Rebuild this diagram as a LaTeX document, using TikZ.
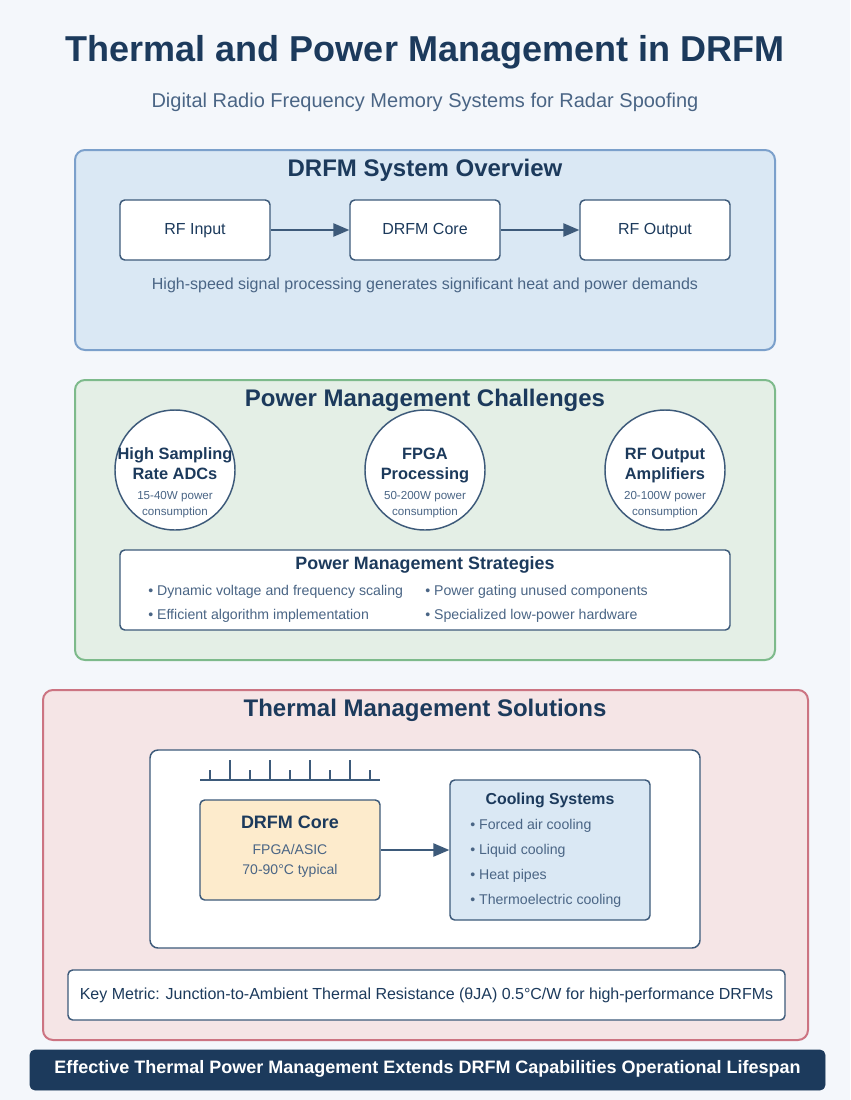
\documentclass[tikz,border=0pt]{standalone}
\usepackage{fontspec}
\setmainfont{Liberation Sans}
\usetikzlibrary{arrows.meta}
\definecolor{navy}{HTML}{1C3A5C}
\definecolor{edge}{HTML}{3D5A7A}
\definecolor{soft}{HTML}{4A6585}
\definecolor{bg}{HTML}{F4F7FB}
\definecolor{bluefill}{HTML}{DAE8F4}
\definecolor{bluestroke}{HTML}{7BA0CB}
\definecolor{greenfill}{HTML}{E4EFE6}
\definecolor{greenstroke}{HTML}{7DBA8B}
\definecolor{redfill}{HTML}{F5E5E6}
\definecolor{redstroke}{HTML}{CC7482}
\definecolor{corefill}{HTML}{FDEBCC}
\tikzset{
  every node/.append style={text height=1.75ex, text depth=0.5ex},
  panel/.style={draw, line width=1.5pt, rounded corners=7.5pt},
  sectitle/.style={font=\fontsize{18}{20}\selectfont\bfseries, text=navy},
  flowbox/.style={draw=edge, fill=white, line width=1.1pt, rounded corners=3.5pt, minimum width=112.5pt, minimum height=45pt, font=\fontsize{12}{14}\selectfont, text=navy},
  flowarrow/.style={draw=edge, line width=1.1pt, -{Triangle[length=12pt,width=10pt]}},
  challenge/.style={circle, draw=edge, fill=white, line width=1.1pt, minimum size=90pt, inner sep=0pt},
  bullet/.style={anchor=west, font=\fontsize{10.6}{12}\selectfont, text=soft, inner sep=0pt},
  tick/.style={draw=edge, line width=1.1pt},
}
\begin{document}
\begin{tikzpicture}[x=0.75pt,y=-0.75pt]
\fill[bg] (0,0) rectangle (850,1100);
\useasboundingbox (0,0) rectangle (850,1100);
% header
\node[font=\fontsize{27}{30}\selectfont\bfseries, text=navy] (title) at (425,57) {Thermal and Power Management in DRFM};
\node[font=\fontsize{15}{17}\selectfont, text=soft] (subtitle) at (425,103) {Digital Radio Frequency Memory Systems for Radar Spoofing};
% section 1
\draw[panel, fill=bluefill, draw=bluestroke] (75,150) rectangle (775,350);
\node[sectitle] (t1) at (425,172) {DRFM System Overview};
\node[flowbox] (rfin) at (195,230) {RF Input};
\node[flowbox] (core) at (425,230) {DRFM Core};
\node[flowbox] (rfout) at (655,230) {RF Output};
\draw[flowarrow] (rfin) -- (core);
\draw[flowarrow] (core) -- (rfout);
\node[font=\fontsize{12}{14}\selectfont, text=soft] (note1) at (425,285) {High-speed signal processing generates significant heat and power demands};
% section 2
\draw[panel, fill=greenfill, draw=greenstroke] (75,380) rectangle (775,660);
\node[sectitle] (t2) at (425,402) {Power Management Challenges};
\node[challenge] (c1) at (175,470) {};
\node[challenge] (c2) at (425,470) {};
\node[challenge] (c3) at (665,470) {};
\foreach \n/\x/\a/\b/\c in {c1/175/High Sampling/Rate ADCs/15-40W power, c2/425/FPGA/Processing/50-200W power, c3/665/RF Output/Amplifiers/20-100W power}{
  \node[font=\fontsize{12.3}{14}\selectfont\bfseries, text=navy, inner sep=0pt] (\n a) at (\x,455) {\a};
  \node[font=\fontsize{12.3}{14}\selectfont\bfseries, text=navy, inner sep=0pt] (\n b) at (\x,475) {\b};
  \node[font=\fontsize{8.7}{10}\selectfont, text=soft, inner sep=0pt] (\n c) at (\x,495) {\c};
  \node[font=\fontsize{8.7}{10}\selectfont, text=soft, inner sep=0pt] (\n d) at (\x,511) {consumption};
}
\draw[draw=edge, fill=white, line width=1.1pt, rounded corners=3.5pt] (120,550) rectangle (730,630);
\node[font=\fontsize{13.4}{15}\selectfont\bfseries, text=navy] (t2b) at (425,565) {Power Management Strategies};
\node[bullet] (s1) at (148,591) {• Dynamic voltage and frequency scaling};
\node[bullet] (s2) at (425,591) {• Power gating unused components};
\node[bullet] (s3) at (148,615) {• Efficient algorithm implementation};
\node[bullet] (s4) at (425,615) {• Specialized low-power hardware};
% section 3
\draw[panel, fill=redfill, draw=redstroke] (43,690) rectangle (808,1040);
\node[sectitle] (t3) at (425,712) {Thermal Management Solutions};
\draw[draw=edge, fill=white, line width=1.1pt, rounded corners=6pt] (150,750) rectangle (700,948);
\draw[tick] (200,780) -- (380,780);
\foreach \x/\h in {210/770,230/760,250/770,270/760,290/770,310/760,330/770,350/760,370/770}{
  \draw[tick] (\x,780) -- (\x,\h);
}
\node[draw=edge, fill=corefill, line width=1.1pt, rounded corners=3.5pt, minimum width=135pt, minimum height=75pt, text height=0pt, text depth=0pt] (dcore) at (290,850) {};
\node[font=\fontsize{13.5}{15}\selectfont\bfseries, text=navy] (dc1) at (290,824) {DRFM Core};
\node[font=\fontsize{10.5}{12}\selectfont, text=soft] (dc2) at (290,850) {FPGA/ASIC};
\node[font=\fontsize{10.5}{12}\selectfont, text=soft] (dc3) at (290,870) {70-90°C typical};
\node[draw=edge, fill=bluefill, line width=1.1pt, rounded corners=3.5pt, minimum width=150pt, minimum height=105pt, text height=0pt, text depth=0pt] (cool) at (550,850) {};
\draw[flowarrow] (dcore) -- (cool);
\node[font=\fontsize{11.9}{13}\selectfont\bfseries, text=navy] (cl0) at (550,800) {Cooling Systems};
\node[bullet] (cl1) at (470,825) {• Forced air cooling};
\node[bullet] (cl2) at (470,850) {• Liquid cooling};
\node[bullet] (cl3) at (470,875) {• Heat pipes};
\node[bullet] (cl4) at (470,900) {• Thermoelectric cooling};
\draw[draw=edge, fill=white, line width=1.1pt, rounded corners=3.5pt] (68,970) rectangle (785,1020);
\node[font=\fontsize{12}{14}\selectfont, text=navy] (metric) at (426.5,995) {Key Metric: Junction-to-Ambient Thermal Resistance (θJA) 0.5°C/W for high-performance DRFMs};
% footer
\draw[fill=navy, draw=navy, rounded corners=3.5pt] (30,1050) rectangle (825,1090);
\node[font=\fontsize{13.5}{15}\selectfont\bfseries, text=white] (footer) at (427.5,1069) {Effective Thermal Power Management Extends DRFM Capabilities Operational Lifespan};
\end{tikzpicture}
\end{document}
